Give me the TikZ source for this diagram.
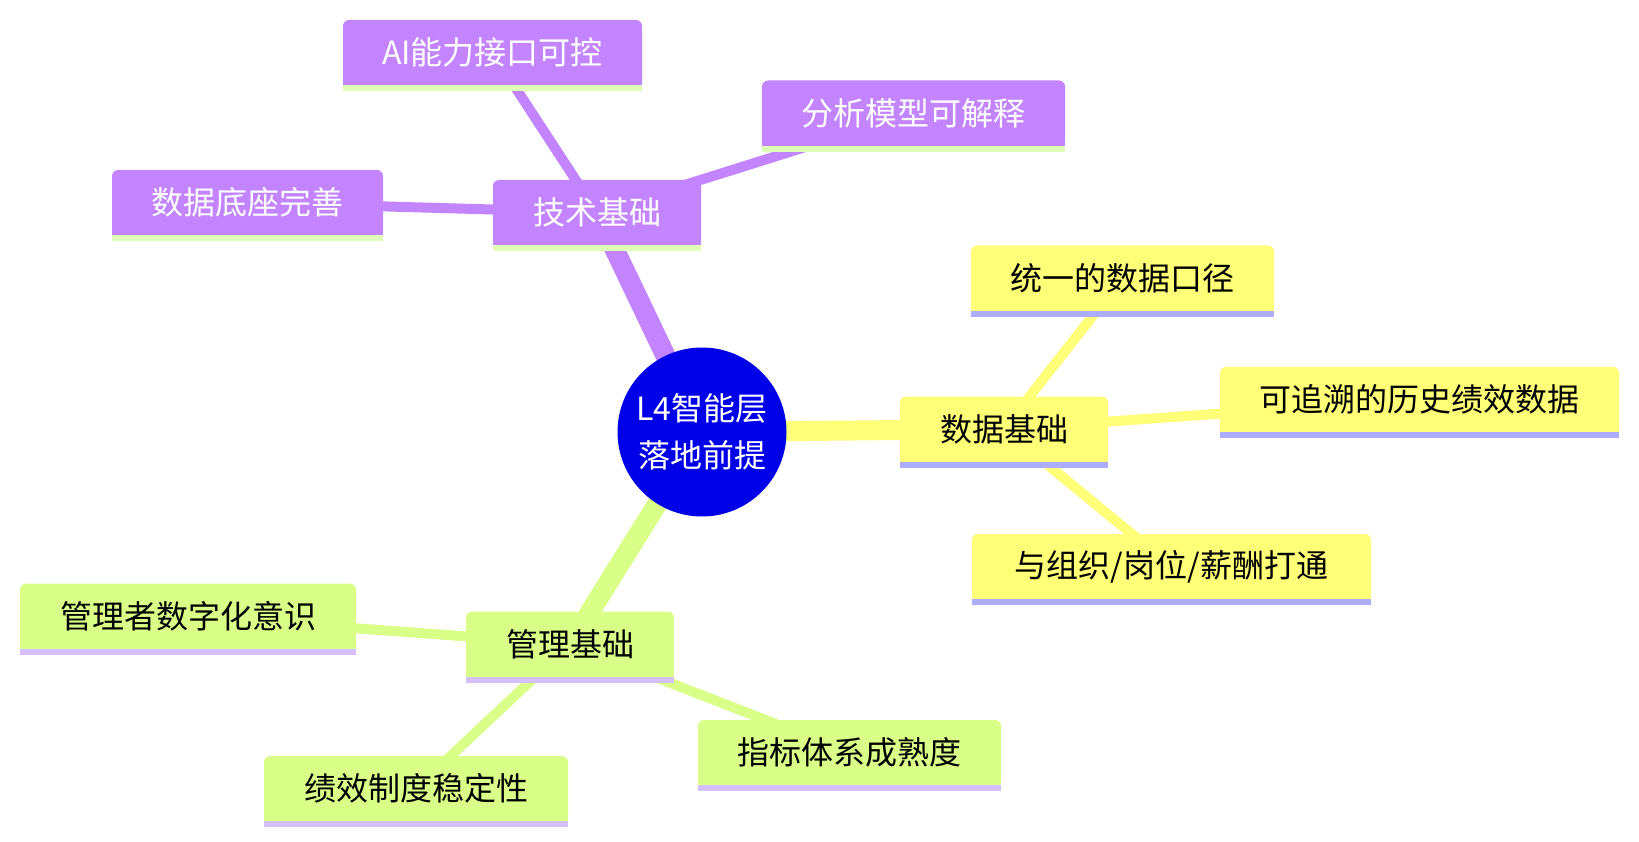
\documentclass[tikz,border=0pt]{standalone}
\usepackage{fontspec}
\setmainfont{Noto Sans CJK SC}
\usetikzlibrary{backgrounds}
\definecolor{cpur}{HTML}{C285FF}
\definecolor{cyel}{HTML}{FFFF78}
\definecolor{cgrn}{HTML}{D9FF88}
\definecolor{upur}{HTML}{DFFFB8}
\definecolor{uyel}{HTML}{ADADFF}
\definecolor{ugrn}{HTML}{D4C0FF}
\definecolor{croot}{HTML}{0000E8}
\tikzset{
  mm/.style={inner sep=0pt, rounded corners=6pt, minimum height=65pt,
    font=\fontsize{32}{38}\selectfont},
  purbox/.style={mm, fill=cpur, text=white},
  yelbox/.style={mm, fill=cyel, text=black},
  grnbox/.style={mm, fill=cgrn, text=black},
  mainedge/.style={line width=20pt},
  subedge/.style={line width=10pt},
}
\newcommand{\mmfoot}[3]{%
  \fill[#2] ([yshift=8pt]#1.south west) rectangle (#1.south east);
  \fill[#3] (#1.south west) rectangle ([yshift=-6pt]#1.south east);}
\begin{document}
\begin{tikzpicture}[x=1pt,y=-1pt]
\useasboundingbox (0,0) rectangle (1639,842);
% root
\node[circle, fill=croot, text=white, minimum size=169pt, inner sep=0pt,
  align=center, font=\fontsize{32}{47}\selectfont] (root) at (702,432) {L4智能层\\落地前提};
% purple section
\node[purbox, minimum width=208pt] (tech) at (597,212.5) {技术基础};
\node[purbox, minimum width=299pt] (ai) at (492.5,52.5) {AI能力接口可控};
\node[purbox, minimum width=303pt] (model) at (913.5,113) {分析模型可解释};
\node[purbox, minimum width=271pt] (base) at (247.5,202.5) {数据底座完善};
% yellow section
\node[yelbox, minimum width=208pt] (data) at (1004,429) {数据基础};
\node[yelbox, minimum width=303pt] (unify) at (1122.5,278) {统一的数据口径};
\node[yelbox, minimum width=399pt] (hist) at (1419.5,399.5) {可追溯的历史绩效数据};
\node[yelbox, minimum width=399pt] (link) at (1171.5,566.5) {与组织/岗位/薪酬打通};
% green section
\node[grnbox, minimum width=208pt] (mgmt) at (570,644) {管理基础};
\node[grnbox, minimum width=336pt] (aware) at (188,616) {管理者数字化意识};
\node[grnbox, minimum width=304pt] (perf) at (416,788.5) {绩效制度稳定性};
\node[grnbox, minimum width=303pt] (index) at (849.5,752.5) {指标体系成熟度};
% footers
\mmfoot{tech}{cpur}{upur}
\mmfoot{ai}{cpur}{upur}
\mmfoot{model}{cpur}{upur}
\mmfoot{base}{cpur}{upur}
\mmfoot{data}{cyel}{uyel}
\mmfoot{unify}{cyel}{uyel}
\mmfoot{hist}{cyel}{uyel}
\mmfoot{link}{cyel}{uyel}
\mmfoot{mgmt}{cgrn}{ugrn}
\mmfoot{aware}{cgrn}{ugrn}
\mmfoot{perf}{cgrn}{ugrn}
\mmfoot{index}{cgrn}{ugrn}
\begin{scope}[on background layer]
\fill[white] (0,0) rectangle (1639,842);
\draw[mainedge, cpur] (root.center) -- (tech.center);
\draw[mainedge, cyel] (root.center) -- (data.center);
\draw[mainedge, cgrn] (root.center) -- (mgmt.center);
\draw[subedge, cpur] (tech.center) -- (ai.center);
\draw[subedge, cpur] (tech.center) -- (model.center);
\draw[subedge, cpur] (tech.center) -- (base.center);
\draw[subedge, cyel] (data.center) -- (unify.center);
\draw[subedge, cyel] (data.center) -- (hist.center);
\draw[subedge, cyel] (data.center) -- (link.center);
\draw[subedge, cgrn] (mgmt.center) -- (aware.center);
\draw[subedge, cgrn] (mgmt.center) -- (perf.center);
\draw[subedge, cgrn] (mgmt.center) -- (index.center);
\end{scope}
\end{tikzpicture}
\end{document}
